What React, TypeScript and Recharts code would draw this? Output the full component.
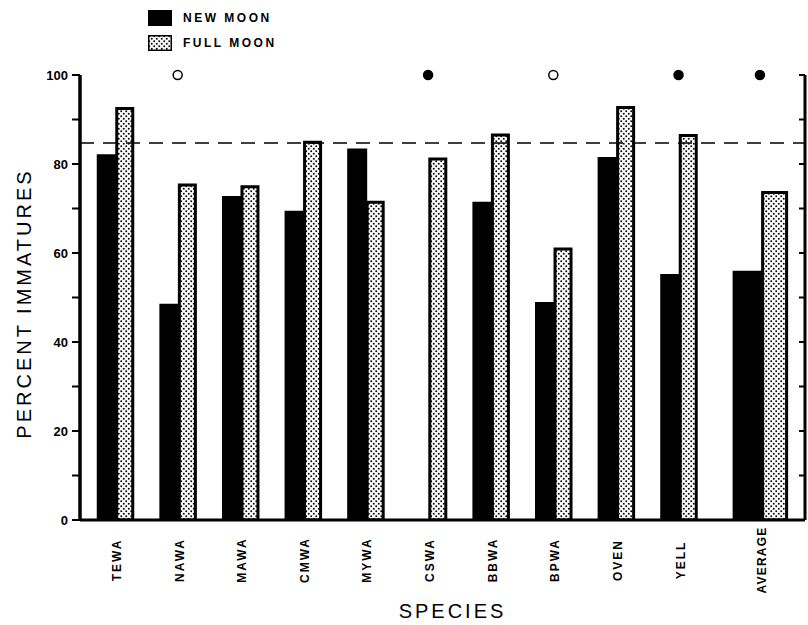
import React from "react";
import {
  ComposedChart,
  Bar,
  XAxis,
  YAxis,
  ReferenceLine,
  ReferenceDot,
  Legend,
} from "recharts";

/** Species codes along the x axis; the last group is the average of all species. */
const categories = ["TEWA", "NAWA", "MAWA", "CMWA", "MYWA", "CSWA", "BBWA", "BPWA", "OVEN", "YELL", "AVERAGE"];

/** Percent immatures caught around the new moon (CSWA has no new moon sample). */
const newMoon: (number | null)[] = [82.2, 48.6, 72.8, 69.5, 83.5, null, 71.5, 49.0, 81.6, 55.3, 56.0];

/** Percent immatures caught around the full moon. */
const fullMoon: number[] = [92.5, 75.3, 74.9, 84.9, 71.4, 81.1, 86.5, 60.9, 92.7, 86.4, 73.6];

/** Significance markers drawn above each group: "open", "filled" or none. */
const markers = ["", "open", "", "", "", "filled", "", "open", "", "filled", "filled"];

/** Overall percentage of immatures, drawn as the dashed line. */
const overallLevel = 84.7;

const yTicks = [0, 10, 20, 30, 40, 50, 60, 70, 80, 90, 100];

const legendOrder = ["NEW MOON", "FULL MOON"];

const FONT = "'Liberation Sans', Arial, Helvetica, sans-serif";
// the average group stands a little apart from the species groups
const AVERAGE_SHIFT = 0.3;
const X_DOMAIN: [number, number] = [-0.56, 11.02];

const rows = categories.map((name, i) => {
  const isAverage = name === "AVERAGE";
  return {
    name,
    pos: isAverage ? i + AVERAGE_SHIFT : i,
    newMoon: isAverage ? null : newMoon[i],
    fullMoon: isAverage ? null : fullMoon[i],
    avgNew: isAverage ? newMoon[i] : null,
    avgFull: isAverage ? fullMoon[i] : null,
    marker: markers[i],
  };
});

const xTicks = rows.map((r) => r.pos);

const labelAt = (pos: number): string => rows.find((r) => r.pos === pos)?.name ?? "";

function SpeciesTick(props: any) {
  const { x, y, payload } = props;
  const cx = x + 2;
  const cy = y + 32;
  const label = labelAt(payload.value);
  return (
    <text
      x={cx}
      y={cy}
      transform={`rotate(-90 ${cx} ${cy})`}
      textAnchor="middle"
      dominantBaseline="central"
      fill="#000"
      fontFamily={FONT}
      fontWeight={700}
      fontSize={12}
      letterSpacing={label === "AVERAGE" ? 1.2 : 2}
    >
      {label}
    </text>
  );
}

function SpeciesLabel(props: any) {
  const { viewBox } = props;
  return (
    <text
      x={viewBox.x + viewBox.width / 2 + 10}
      y={viewBox.y + 91}
      textAnchor="middle"
      dominantBaseline="central"
      fill="#000"
      fontFamily={FONT}
      fontSize={20}
      letterSpacing={3}
    >
      SPECIES
    </text>
  );
}

function PercentLabel(props: any) {
  const { viewBox } = props;
  const cx = 24;
  const cy = viewBox.y + viewBox.height / 2 + 6;
  return (
    <text
      x={cx}
      y={cy}
      transform={`rotate(-90 ${cx} ${cy})`}
      textAnchor="middle"
      dominantBaseline="central"
      fill="#000"
      fontFamily={FONT}
      fontSize={20}
      letterSpacing={3}
    >
      PERCENT IMMATURES
    </text>
  );
}

function MoonLegend(props: any) {
  const items = (props.payload ?? [])
    .filter((p: any) => legendOrder.includes(p.value))
    .sort((a: any, b: any) => legendOrder.indexOf(a.value) - legendOrder.indexOf(b.value));
  return (
    <div style={{ fontFamily: FONT, fontWeight: 700, fontSize: 12, letterSpacing: 2.5, color: "#000" }}>
      {items.map((item: any) => (
        <div key={item.value} style={{ display: "flex", alignItems: "center", height: 25 }}>
          <svg width={24} height={16} style={{ display: "block" }}>
            <rect x={0.75} y={0.75} width={22.5} height={14.5} fill={item.color} stroke="#000" strokeWidth={1.5} />
          </svg>
          <span style={{ marginLeft: 11, lineHeight: "16px" }}>{item.value}</span>
        </div>
      ))}
    </div>
  );
}

const axisStroke = { stroke: "#000", strokeWidth: 3 };
const tickStroke = { stroke: "#000", strokeWidth: 2 };

export default function App() {
  return (
    <div style={{ position: "absolute", left: 0, top: 0, width: 808, height: 625, background: "#fff" }}>
      <ComposedChart
        width={808}
        height={625}
        data={rows}
        margin={{ top: 75, right: 3, bottom: 0, left: 0 }}
        barGap={0}
      >
        <defs>
          <pattern id="stipple" width="5" height="5" patternUnits="userSpaceOnUse">
            <rect width="5" height="5" fill="#fff" />
            <rect x="0.4" y="0.4" width="1.7" height="1.7" fill="#000" />
            <rect x="2.9" y="2.9" width="1.7" height="1.7" fill="#000" />
          </pattern>
        </defs>
        <XAxis
          xAxisId="sp"
          type="number"
          dataKey="pos"
          domain={X_DOMAIN}
          ticks={xTicks}
          interval={0}
          allowDataOverflow
          height={105}
          stroke="#000"
          strokeWidth={3}
          axisLine={axisStroke}
          tickLine={false}
          tick={<SpeciesTick />}
          label={{ content: SpeciesLabel }}
        />
        <XAxis
          xAxisId="avg"
          type="number"
          dataKey="pos"
          domain={X_DOMAIN}
          ticks={xTicks}
          interval={0}
          allowDataOverflow
          height={0}
          hide
        />
        <YAxis
          yAxisId="left"
          domain={[0, 100]}
          ticks={yTicks}
          interval={0}
          allowDataOverflow
          width={80}
          tickSize={8}
          tickMargin={4}
          stroke="#000"
          strokeWidth={3}
          axisLine={axisStroke}
          tickLine={tickStroke}
          tickFormatter={(v: number) => (v % 20 === 0 ? String(v) : "")}
          tick={{ fill: "#000", fontSize: 13, fontWeight: 700, fontFamily: FONT }}
          label={{ content: PercentLabel }}
        />
        <YAxis
          yAxisId="right"
          orientation="right"
          domain={[0, 100]}
          ticks={yTicks}
          interval={0}
          allowDataOverflow
          width={1}
          mirror
          tickSize={6}
          stroke="#000"
          strokeWidth={3}
          axisLine={axisStroke}
          tickLine={tickStroke}
          tick={() => <g />}
        />
        {/* left frame edge, on top of the axis line so it always shows */}
        <ReferenceLine xAxisId="sp" yAxisId="left" x={X_DOMAIN[0]} stroke="#000" strokeWidth={3} />
        <ReferenceLine
          xAxisId="sp"
          yAxisId="left"
          y={overallLevel}
          stroke="#000"
          strokeWidth={1.5}
          strokeDasharray="14 9"
        />
        <Bar xAxisId="sp" yAxisId="left" dataKey="newMoon" name="NEW MOON" fill="#000" barSize={20} isAnimationActive={false} />
        <Bar
          xAxisId="sp"
          yAxisId="left"
          dataKey="fullMoon"
          name="FULL MOON"
          fill="url(#stipple)"
          stroke="#000"
          strokeWidth={3}
          barSize={16}
          isAnimationActive={false}
        />
        <Bar xAxisId="avg" yAxisId="left" dataKey="avgNew" fill="#000" barSize={30} legendType="none" isAnimationActive={false} />
        <Bar
          xAxisId="avg"
          yAxisId="left"
          dataKey="avgFull"
          fill="url(#stipple)"
          stroke="#000"
          strokeWidth={3}
          barSize={24}
          legendType="none"
          isAnimationActive={false}
        />
        {rows
          .filter((r) => r.marker)
          .map((r) => (
            <ReferenceDot
              key={r.name}
              xAxisId="sp"
              yAxisId="left"
              x={r.pos}
              y={100}
              r={4.5}
              fill={r.marker === "filled" ? "#000" : "#fff"}
              stroke="#000"
              strokeWidth={1.5}
            />
          ))}
        <Legend
          verticalAlign="middle"
          align="center"
          content={<MoonLegend />}
          wrapperStyle={{ top: 5, left: 148, width: 220 }}
        />
      </ComposedChart>
    </div>
  );
}
